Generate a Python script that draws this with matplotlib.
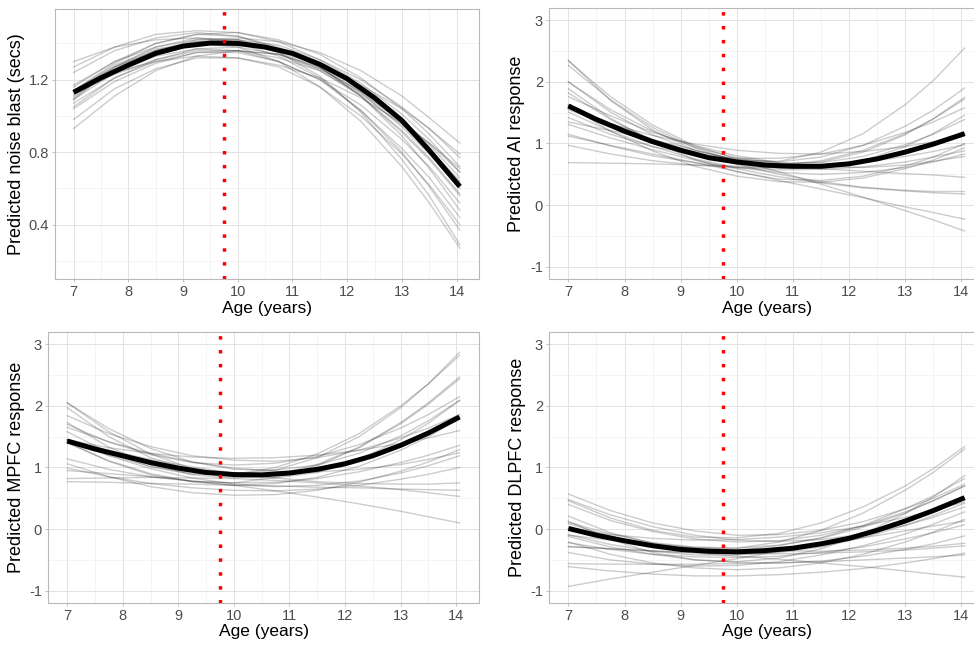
import numpy as np
import matplotlib
matplotlib.use("Agg")
import matplotlib.pyplot as plt

plt.rcParams['font.family'] = ['Liberation Sans', 'DejaVu Sans']

# 年齢 (mean curve every half year, draws on a coarser grid)
mean_ages = [7.0, 7.5, 8.0, 8.5, 9.0, 9.5, 10.0, 10.5, 11.0, 11.5, 12.0, 12.5, 13.0, 13.5, 14.06]
draw_ages = [7.0, 7.75, 8.5, 9.25, 10.0, 10.75, 11.5, 12.25, 13.0, 13.5, 14.06]
peak_age = 9.75

# noise blast
blast_mean = [1.13, 1.21, 1.28, 1.345, 1.385, 1.402, 1.40, 1.38, 1.345, 1.285, 1.205, 1.10, 0.975, 0.81, 0.61]
blast_draws = [
    [1.16, 1.30, 1.40, 1.45, 1.46, 1.42, 1.34, 1.21, 1.04, 0.90, 0.72],
    [1.09, 1.24, 1.33, 1.37, 1.36, 1.30, 1.20, 1.03, 0.82, 0.66, 0.44],
    [1.13, 1.27, 1.36, 1.41, 1.42, 1.39, 1.31, 1.20, 1.05, 0.93, 0.77],
    [1.10, 1.26, 1.36, 1.41, 1.40, 1.33, 1.21, 1.03, 0.80, 0.61, 0.37],
    [1.14, 1.24, 1.30, 1.33, 1.32, 1.28, 1.21, 1.10, 0.96, 0.85, 0.71],
    [1.09, 1.27, 1.38, 1.43, 1.42, 1.35, 1.22, 1.02, 0.76, 0.56, 0.29],
    [1.14, 1.27, 1.36, 1.42, 1.43, 1.41, 1.35, 1.25, 1.11, 0.99, 0.85],
    [0.93, 1.11, 1.25, 1.33, 1.36, 1.34, 1.26, 1.14, 0.96, 0.82, 0.63],
    [1.30, 1.38, 1.42, 1.43, 1.41, 1.35, 1.26, 1.13, 0.97, 0.85, 0.69],
    [1.07, 1.21, 1.30, 1.35, 1.35, 1.30, 1.20, 1.06, 0.87, 0.72, 0.52],
    [1.17, 1.30, 1.38, 1.42, 1.42, 1.37, 1.28, 1.15, 0.98, 0.84, 0.66],
    [1.14, 1.29, 1.40, 1.45, 1.44, 1.38, 1.27, 1.11, 0.89, 0.71, 0.48],
    [1.04, 1.19, 1.29, 1.35, 1.36, 1.32, 1.25, 1.12, 0.95, 0.82, 0.64],
    [1.27, 1.38, 1.45, 1.47, 1.46, 1.41, 1.31, 1.18, 1.01, 0.87, 0.69],
    [1.05, 1.21, 1.31, 1.37, 1.38, 1.34, 1.25, 1.11, 0.92, 0.77, 0.57],
    [1.24, 1.36, 1.43, 1.46, 1.44, 1.37, 1.27, 1.11, 0.91, 0.76, 0.56],
    [0.98, 1.15, 1.26, 1.32, 1.32, 1.27, 1.16, 1.00, 0.79, 0.62, 0.40],
    [1.11, 1.25, 1.35, 1.40, 1.40, 1.36, 1.27, 1.13, 0.94, 0.79, 0.60],
    [1.14, 1.28, 1.37, 1.40, 1.38, 1.30, 1.16, 0.97, 0.72, 0.52, 0.27],
    [1.12, 1.23, 1.31, 1.36, 1.36, 1.34, 1.27, 1.17, 1.04, 0.93, 0.79],
]

# AI
ai_mean = [1.61, 1.39, 1.20, 1.03, 0.89, 0.77, 0.70, 0.65, 0.63, 0.63, 0.67, 0.75, 0.86, 0.99, 1.16]
ai_draws = [
    [2.27, 1.71, 1.26, 0.93, 0.71, 0.60, 0.60, 0.72, 0.95, 1.16, 1.46],
    [1.62, 1.33, 1.07, 0.85, 0.66, 0.50, 0.38, 0.29, 0.24, 0.22, 0.22],
    [2.00, 1.51, 1.14, 0.88, 0.74, 0.70, 0.78, 0.97, 1.28, 1.54, 1.90],
    [1.35, 1.21, 1.06, 0.90, 0.72, 0.54, 0.34, 0.13, -0.09, -0.24, -0.42],
    [2.35, 1.70, 1.22, 0.89, 0.73, 0.71, 0.86, 1.16, 1.63, 2.02, 2.55],
    [1.63, 1.30, 1.03, 0.83, 0.70, 0.64, 0.64, 0.71, 0.85, 0.98, 1.16],
    [1.51, 1.20, 0.95, 0.75, 0.61, 0.53, 0.50, 0.53, 0.61, 0.70, 0.83],
    [0.69, 0.68, 0.67, 0.65, 0.63, 0.61, 0.59, 0.55, 0.51, 0.49, 0.45],
    [1.42, 1.15, 0.95, 0.82, 0.76, 0.76, 0.83, 0.97, 1.18, 1.35, 1.58],
    [1.89, 1.41, 1.03, 0.74, 0.54, 0.42, 0.40, 0.47, 0.63, 0.78, 1.00],
    [1.55, 1.32, 1.13, 0.99, 0.89, 0.84, 0.83, 0.87, 0.95, 1.03, 1.14],
    [1.31, 1.09, 0.90, 0.73, 0.59, 0.46, 0.36, 0.28, 0.23, 0.20, 0.18],
    [2.00, 1.55, 1.20, 0.94, 0.77, 0.68, 0.69, 0.79, 0.98, 1.15, 1.39],
    [1.15, 0.96, 0.80, 0.69, 0.61, 0.57, 0.58, 0.62, 0.70, 0.78, 0.88],
    [1.82, 1.39, 1.05, 0.82, 0.68, 0.65, 0.72, 0.89, 1.16, 1.40, 1.72],
    [1.61, 1.20, 0.88, 0.63, 0.47, 0.38, 0.37, 0.44, 0.59, 0.73, 0.93],
    [1.76, 1.45, 1.18, 0.97, 0.80, 0.69, 0.63, 0.61, 0.65, 0.71, 0.79],
    [0.97, 0.83, 0.72, 0.65, 0.61, 0.60, 0.63, 0.69, 0.79, 0.87, 0.98],
    [2.34, 1.76, 1.30, 0.96, 0.75, 0.66, 0.70, 0.86, 1.14, 1.40, 1.75],
    [1.12, 0.97, 0.83, 0.69, 0.55, 0.40, 0.26, 0.12, -0.03, -0.12, -0.23],
]

# MPFC
mpfc_mean = [1.43, 1.30, 1.19, 1.08, 0.99, 0.92, 0.885, 0.88, 0.91, 0.97, 1.06, 1.19, 1.36, 1.56, 1.82]
mpfc_draws = [
    [2.05, 1.63, 1.31, 1.09, 0.97, 0.96, 1.04, 1.23, 1.51, 1.76, 2.09],
    [0.82, 0.83, 0.84, 0.83, 0.82, 0.79, 0.75, 0.70, 0.64, 0.59, 0.53],
    [1.73, 1.33, 1.05, 0.88, 0.83, 0.88, 1.05, 1.33, 1.73, 2.05, 2.47],
    [1.40, 1.11, 0.90, 0.77, 0.71, 0.74, 0.84, 1.02, 1.28, 1.50, 1.79],
    [0.95, 0.90, 0.85, 0.78, 0.71, 0.62, 0.52, 0.41, 0.29, 0.20, 0.10],
    [1.70, 1.41, 1.21, 1.08, 1.04, 1.07, 1.18, 1.37, 1.64, 1.86, 2.15],
    [1.14, 0.97, 0.85, 0.78, 0.75, 0.76, 0.82, 0.93, 1.08, 1.20, 1.36],
    [1.97, 1.50, 1.16, 0.96, 0.89, 0.96, 1.16, 1.50, 1.97, 2.36, 2.87],
    [1.44, 1.20, 1.02, 0.91, 0.87, 0.90, 0.99, 1.15, 1.38, 1.57, 1.82],
    [0.99, 0.85, 0.74, 0.67, 0.63, 0.62, 0.65, 0.71, 0.81, 0.89, 1.00],
    [1.84, 1.55, 1.34, 1.19, 1.12, 1.10, 1.16, 1.28, 1.48, 1.64, 1.86],
    [1.45, 1.19, 0.98, 0.83, 0.73, 0.69, 0.71, 0.78, 0.91, 1.03, 1.19],
    [1.41, 1.10, 0.88, 0.77, 0.75, 0.84, 1.03, 1.32, 1.71, 2.03, 2.44],
    [1.65, 1.42, 1.23, 1.09, 0.99, 0.94, 0.93, 0.97, 1.05, 1.13, 1.24],
    [1.06, 0.85, 0.69, 0.59, 0.55, 0.56, 0.63, 0.76, 0.94, 1.09, 1.29],
    [1.45, 1.32, 1.23, 1.17, 1.15, 1.16, 1.20, 1.28, 1.39, 1.48, 1.60],
    [1.45, 1.28, 1.13, 1.01, 0.91, 0.83, 0.77, 0.74, 0.73, 0.73, 0.75],
    [1.58, 1.24, 1.01, 0.89, 0.89, 1.00, 1.22, 1.55, 2.00, 2.36, 2.82],
    [0.77, 0.76, 0.74, 0.73, 0.71, 0.70, 0.68, 0.67, 0.65, 0.64, 0.63],
    [2.05, 1.58, 1.22, 0.98, 0.85, 0.83, 0.92, 1.13, 1.45, 1.72, 2.09],
]

# DLPFC
dlpfc_mean = [0.01, -0.10, -0.19, -0.27, -0.33, -0.36, -0.37, -0.35, -0.31, -0.24, -0.15, -0.02, 0.13, 0.30, 0.51]
dlpfc_draws = [
    [0.40, 0.14, -0.04, -0.16, -0.21, -0.19, -0.10, 0.05, 0.28, 0.46, 0.70],
    [-0.56, -0.57, -0.57, -0.57, -0.56, -0.55, -0.53, -0.50, -0.47, -0.45, -0.42],
    [0.21, -0.06, -0.23, -0.31, -0.31, -0.21, -0.02, 0.26, 0.63, 0.92, 1.30],
    [-0.22, -0.33, -0.41, -0.45, -0.46, -0.44, -0.38, -0.29, -0.16, -0.06, 0.07],
    [0.57, 0.30, 0.10, -0.03, -0.10, -0.09, -0.02, 0.12, 0.33, 0.50, 0.73],
    [-0.93, -0.81, -0.70, -0.59, -0.48, -0.36, -0.25, -0.14, -0.03, 0.05, 0.13],
    [-0.12, -0.29, -0.41, -0.50, -0.54, -0.55, -0.52, -0.44, -0.33, -0.24, -0.11],
    [-0.29, -0.32, -0.35, -0.39, -0.44, -0.49, -0.55, -0.61, -0.68, -0.73, -0.78],
    [0.09, -0.12, -0.26, -0.33, -0.34, -0.27, -0.14, 0.06, 0.33, 0.54, 0.82],
    [-0.21, -0.41, -0.55, -0.63, -0.66, -0.63, -0.55, -0.41, -0.21, -0.05, 0.16],
    [0.48, 0.23, 0.04, -0.10, -0.18, -0.20, -0.17, -0.08, 0.06, 0.19, 0.36],
    [-0.09, -0.25, -0.36, -0.42, -0.42, -0.38, -0.29, -0.14, 0.06, 0.22, 0.42],
    [0.01, -0.09, -0.15, -0.18, -0.17, -0.13, -0.06, 0.05, 0.19, 0.30, 0.44],
    [0.13, -0.17, -0.38, -0.50, -0.53, -0.47, -0.32, -0.08, 0.25, 0.52, 0.87],
    [-0.10, -0.18, -0.25, -0.30, -0.34, -0.35, -0.36, -0.34, -0.31, -0.28, -0.23],
    [-0.61, -0.68, -0.73, -0.76, -0.76, -0.74, -0.70, -0.64, -0.55, -0.48, -0.39],
    [0.11, -0.08, -0.22, -0.29, -0.31, -0.26, -0.15, 0.03, 0.26, 0.46, 0.70],
    [-0.28, -0.32, -0.36, -0.38, -0.40, -0.40, -0.39, -0.37, -0.34, -0.31, -0.27],
    [-0.38, -0.50, -0.57, -0.60, -0.59, -0.53, -0.42, -0.27, -0.08, 0.08, 0.28],
    [0.46, 0.18, -0.02, -0.13, -0.14, -0.07, 0.10, 0.36, 0.70, 0.98, 1.34],
]

x_ticks = [7, 8, 9, 10, 11, 12, 13, 14]
x_minor = [7.5, 8.5, 9.5, 10.5, 11.5, 12.5, 13.5]
blast_ticks = [0.4, 0.8, 1.2]
blast_minor = [0.2, 0.6, 1.0, 1.4]
resp_ticks = [-1, 0, 1, 2, 3]
resp_minor = [-0.5, 0.5, 1.5, 2.5]


def draw_panel(ax, mean_vals, draws, ylabel, ylim, yticks, yminor, ylab_x, xlab_y):
    for d in draws:
        ax.plot(draw_ages, d, color="black", alpha=0.2, lw=1.0, zorder=2)
    ax.plot(mean_ages, mean_vals, color="black", lw=3.6, solid_capstyle="butt", zorder=3)
    ax.axvline(peak_age, color="red", lw=2.5, linestyle=(0, (1, 3)),
               dash_capstyle="butt", zorder=4)

    ax.set_xlim(6.66, 14.41)
    ax.set_ylim(*ylim)
    ax.set_xticks(x_ticks)
    ax.set_xticks(x_minor, minor=True)
    ax.set_yticks(yticks)
    ax.set_yticks(yminor, minor=True)
    ax.set_yticklabels([f"{t:g}" for t in yticks])

    ax.grid(which="major", color="#E2E2E2", lw=0.7, zorder=0)
    ax.grid(which="minor", color="#F0F0F0", lw=0.5, zorder=0)
    ax.set_axisbelow(True)
    for s in ax.spines.values():
        s.set_color("#B8B8B8")
        s.set_linewidth(0.8)
    ax.tick_params(which="major", length=2.5, width=0.6, color="#B8B8B8",
                   labelsize=10.5, labelcolor="#4D4D4D", pad=2)
    ax.tick_params(which="minor", length=0)

    ax.set_xlabel("Age (years)", fontsize=12.5)
    ax.set_ylabel(ylabel, fontsize=13)
    ax.xaxis.set_label_coords(0.5, xlab_y)
    ax.yaxis.set_label_coords(ylab_x, 0.5)


fig = plt.figure(figsize=(9.74, 6.45), dpi=100)

ax1 = fig.add_axes([0.05647, 0.56744, 0.43532, 0.41860])
ax2 = fig.add_axes([0.56396, 0.56744, 0.44661, 0.42016])
ax3 = fig.add_axes([0.04959, 0.06512, 0.44220, 0.42016])
ax4 = fig.add_axes([0.56396, 0.06512, 0.44661, 0.42016])

draw_panel(ax1, blast_mean, blast_draws, "Predicted noise blast (secs)",
           (0.1, 1.59), blast_ticks, blast_minor, -0.070, -0.080)
draw_panel(ax2, ai_mean, ai_draws, "Predicted AI response",
           (-1.2, 3.2), resp_ticks, resp_minor, -0.055, -0.080)
draw_panel(ax3, mpfc_mean, mpfc_draws, "Predicted MPFC response",
           (-1.2, 3.2), resp_ticks, resp_minor, -0.054, -0.076)
draw_panel(ax4, dlpfc_mean, dlpfc_draws, "Predicted DLPFC response",
           (-1.2, 3.2), resp_ticks, resp_minor, -0.054, -0.076)

fig.savefig("out.png", dpi=100)
